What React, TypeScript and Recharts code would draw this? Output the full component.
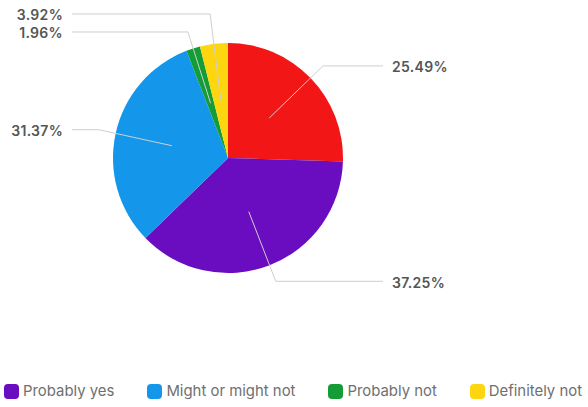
import { PieChart, Pie, Cell, Legend } from 'recharts';

const categories = ['Definitely yes', 'Probably yes', 'Might or might not', 'Probably not', 'Definitely not'];
const responses = [13, 19, 16, 1, 2];
const colours = ['#f21616', '#6a0cbf', '#1497eb', '#149c36', '#fdd60f'];
const legendHidden = ['Definitely yes'];

const data = categories.map((name, i) => ({ name, value: responses[i] }));
const total = responses.reduce((a, b) => a + b, 0);

const CX = 228;
const CY = 158;
const R = 115;
const RAD = Math.PI / 180;

// work out where each label goes, nudging labels on the same side apart
function layoutLabels() {
  let acc = 0;
  const items = responses.map((v, index) => {
    const mid = 90 - ((acc + v / 2) / total) * 360;
    acc += v;
    const right = Math.cos(mid * RAD) >= 0;
    const y = CY - R * 1.15 * Math.sin(mid * RAD);
    return { index, mid, right, y };
  });
  [true, false].forEach((side) => {
    const list = items.filter((it) => it.right === side).sort((a, b) => b.y - a.y);
    for (let i = 1; i < list.length; i++) {
      if (list[i].y > list[i - 1].y - 18) list[i].y = list[i - 1].y - 18;
    }
  });
  return items;
}

const labelLayout = layoutLabels();

function renderLabel(props: any) {
  const { index, value } = props;
  const item = labelLayout[index];
  const sin = Math.sin(item.mid * RAD);
  const cos = Math.cos(item.mid * RAD);
  const sx = CX + R * 0.5 * cos;
  const sy = CY - R * 0.5 * sin;
  const dist = Math.abs(sin) > 0.2 ? (CY - item.y) / sin : R * 1.15;
  const ex = CX + dist * cos;
  const ey = item.y;
  const endX = item.right ? CX + 155 : CX - 156;
  const textX = item.right ? CX + 164 : CX - 165;
  return (
    <g>
      <polyline
        points={`${sx},${sy} ${ex},${ey} ${endX},${ey}`}
        fill="none"
        stroke="#cfcfcf"
        strokeWidth={1}
      />
      <text
        x={textX}
        y={ey + 1}
        textAnchor={item.right ? 'start' : 'end'}
        dominantBaseline="central"
        fill="#555"
        fontSize={14}
        fontWeight={600}
        letterSpacing={0.3}
      >
        {`${((value / total) * 100).toFixed(2)}%`}
      </text>
    </g>
  );
}

function renderLegend(props: any) {
  const payload = props.payload || [];
  const items = categories
    .filter((c) => !legendHidden.includes(c))
    .map((c) => payload.find((p: any) => p.value === c) || { value: c, color: colours[categories.indexOf(c)] });
  return (
    <div style={{ display: 'flex', gap: 33, paddingLeft: 4 }}>
      {items.map((p: any) => (
        <div key={p.value} style={{ display: 'flex', alignItems: 'center' }}>
          <span
            style={{
              width: 15,
              height: 15,
              borderRadius: 4,
              background: p.color,
              marginRight: 4,
              display: 'inline-block',
            }}
          />
          <span style={{ fontSize: 14.9, color: '#707070', lineHeight: '18px' }}>{p.value}</span>
        </div>
      ))}
    </div>
  );
}

export default function App() {
  return (
    <div style={{ position: 'absolute', left: 0, top: 0, fontFamily: 'Inter, sans-serif', background: '#fff' }}>
      <PieChart width={588} height={407} margin={{ top: 0, right: 0, bottom: 0, left: 0 }}>
        <Pie
          data={data}
          dataKey="value"
          nameKey="name"
          cx={CX}
          cy={CY}
          outerRadius={R}
          startAngle={90}
          endAngle={-270}
          stroke="none"
          label={renderLabel}
          labelLine={false}
          isAnimationActive={false}
        >
          {data.map((d, i) => (
            <Cell key={d.name} fill={colours[i]} />
          ))}
        </Pie>
        <Legend
          verticalAlign="bottom"
          content={renderLegend}
          wrapperStyle={{ left: 0, bottom: 7, width: 588 }}
        />
      </PieChart>
    </div>
  );
}
